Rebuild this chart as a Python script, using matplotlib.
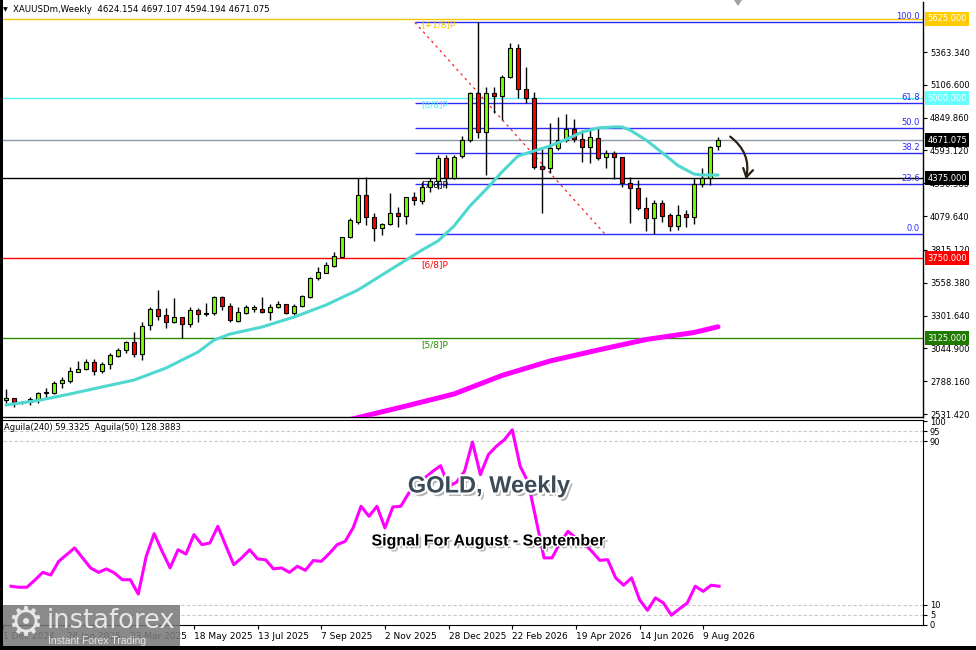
import numpy as np
import matplotlib
matplotlib.use("Agg")
import matplotlib.pyplot as plt
import matplotlib.patheffects as pe
from matplotlib.patches import FancyArrowPatch, Rectangle, Polygon

# ---------------- data ----------------
opens = [2641, 2654, 2625, 2623, 2641, 2695, 2692, 2771, 2792, 2862,
         2881, 2936, 2870, 2920, 2988, 3032, 3092, 2998, 3228, 3353,
         3306, 3249, 3288, 3233, 3345, 3312, 3318, 3444, 3376, 3261,
         3322, 3350, 3350, 3332, 3371, 3392, 3319, 3379, 3449, 3592,
         3637, 3689, 3762, 3913, 4036, 4244, 4070, 3984, 4018, 4106,
         4080, 4226, 4200, 4305, 4357, 4531, 4375, 4546, 4676, 5040,
         4740, 5040, 5022, 5165, 5392, 5074, 5001, 4471, 4453, 4610,
         4675, 4758, 4680, 4618, 4693, 4539, 4570, 4539, 4341, 4297,
         4140, 4062, 4184, 4088, 4000, 4093, 4075, 4330, 4375, 4624.154]
highs = [2727, 2659, 2635, 2666, 2706, 2731, 2791, 2823, 2896, 2946,
         2962, 2960, 2940, 3011, 3045, 3105, 3170, 3253, 3366, 3502,
         3358, 3441, 3292, 3371, 3363, 3402, 3454, 3454, 3397, 3366,
         3386, 3386, 3449, 3392, 3418, 3395, 3392, 3465, 3605, 3684,
         3723, 3801, 3918, 4062, 4380, 4385, 4106, 4028, 4258, 4153,
         4232, 4270, 4349, 4375, 4557, 4557, 4557, 4707, 5053, 5600,
         5092, 5092, 5183, 5431, 5426, 5244, 5053, 4610, 4805, 4857,
         4878, 4837, 4753, 4760, 4779, 4597, 4591, 4544, 4383, 4362,
         4226, 4206, 4206, 4106, 4166, 4127, 4375, 4453, 4628, 4697.107]
lows = [2617, 2584, 2607, 2602, 2617, 2654, 2688, 2732, 2771, 2862,
        2876, 2836, 2854, 2881, 2980, 3006, 2975, 2954, 3189, 3267,
        3202, 3241, 3123, 3209, 3249, 3302, 3306, 3345, 3249, 3254,
        3314, 3330, 3324, 3267, 3358, 3316, 3306, 3371, 3436, 3580,
        3632, 3684, 3757, 3906, 4018, 4010, 3887, 3931, 4010, 3997,
        4018, 4166, 4174, 4270, 4290, 4297, 4370, 4538, 4660, 4688,
        4401, 4884, 4831, 5157, 5001, 4962, 4448, 4101, 4414, 4597,
        4662, 4662, 4505, 4497, 4518, 4453, 4367, 4310, 4023, 4127,
        3965, 3939, 4036, 3965, 3971, 3992, 4018, 4310, 4323, 4594.194]
closes = [2654, 2623, 2629, 2646, 2693, 2700, 2771, 2797, 2867, 2883,
          2936, 2870, 2923, 2993, 3032, 3092, 2998, 3222, 3353, 3300,
          3249, 3288, 3233, 3345, 3314, 3318, 3444, 3376, 3267, 3327,
          3369, 3371, 3332, 3366, 3392, 3319, 3379, 3457, 3597, 3644,
          3697, 3767, 3913, 4049, 4244, 4070, 3984, 4018, 4101, 4080,
          4226, 4205, 4305, 4357, 4531, 4375, 4544, 4676, 5040, 4740,
          5040, 5022, 5165, 5392, 5074, 5001, 4466, 4450, 4610, 4675,
          4758, 4680, 4618, 4696, 4537, 4570, 4539, 4341, 4297, 4140,
          4062, 4184, 4080, 4000, 4088, 4075, 4330, 4375, 4622, 4671.075]

ma_fast_idx = [0, 4, 8, 12, 16, 20, 24, 26, 28, 32, 36, 40, 44, 48, 50, 52, 54,
               56, 58, 60, 62, 64, 66, 68, 70, 72, 74, 76, 77, 78, 80, 82, 84,
               86, 87, 89]
ma_fast_val = [2602, 2637, 2688, 2743, 2797, 2891, 3016, 3110, 3157, 3212, 3290,
               3384, 3502, 3658, 3736, 3814, 3885, 4002, 4159, 4288, 4425, 4550,
               4589, 4628, 4679, 4737, 4769, 4777, 4777, 4753, 4675, 4577, 4475,
               4409, 4401, 4401]

ma_slow_idx = [43, 50, 56, 62, 68, 74, 80, 86, 89]
ma_slow_val = [2488, 2594, 2688, 2833, 2946, 3032, 3114, 3169, 3214]

osc_val = [19.0, 18.5, 18.5, 22.0, 25.8, 24.5, 31.2, 34.5, 37.8, 32.9,
           28.0, 25.8, 27.5, 25.5, 22.2, 22.2, 15.2, 33.7, 44.8, 36.1,
           28.0, 36.9, 34.8, 44.3, 39.4, 40.2, 48.4, 38.9, 29.6, 32.9,
           36.9, 32.4, 32.0, 27.5, 28.0, 25.8, 28.8, 26.8, 31.6, 31.2,
           35.0, 39.4, 41.0, 47.6, 58.2, 53.3, 58.2, 47.6, 57.9, 58.2,
           64.7, 68.0, 72.0, 75.3, 78.1, 68.0, 70.0, 75.3, 89.7, 73.7,
           83.5, 87.6, 90.8, 95.7, 77.8, 70.0, 51.6, 32.9, 32.9, 40.2,
           45.9, 42.7, 40.2, 36.1, 31.7, 32.0, 23.1, 19.5, 23.1, 12.4,
           7.2, 13.3, 10.8, 4.8, 7.9, 10.8, 19.0, 16.5, 19.5, 19.0]
osc_levels = [95, 90, 10, 5]
osc_ticks = [0, 5, 10, 90, 95, 100]

price_ticks = [5363.340, 5106.600, 4849.860, 4593.120, 4336.380, 4079.640,
               3815.120, 3558.380, 3301.640, 3044.900, 2788.160, 2531.420]

murrey_levels = [5625.0, 5000.0, 4375.0, 3750.0, 3125.0]
murrey_names = ["[+1/8]P", "[8/8]P", "[7/8]P", "[6/8]P", "[5/8]P"]
murrey_colors = ["#f5c400", "#55f0f0", "#000000", "#ff0000", "#2a8a00"]
murrey_label_bg = ["#ffcc00", "#66ffff", "#000000", "#ff0000", "#1f7a00"]

fib_low, fib_high = 3937.0, 5595.0
fib_ratios = [0.0, 23.6, 38.2, 50.0, 61.8, 100.0]
fib_start_bar, fib_end_bar = 51.1, 74.9

last_price = 4671.075

date_idx = [-1, 7, 15, 23, 31, 39, 47, 55, 63, 71, 79, 87]
date_labels = ["1 Dec 2024", "26 Jan 2025", "23 Mar 2025", "18 May 2025",
               "13 Jul 2025", "7 Sep 2025", "2 Nov 2025", "28 Dec 2025",
               "22 Feb 2026", "19 Apr 2026", "14 Jun 2026", "9 Aug 2026"]

# ---------------- figure ----------------
W, H = 976, 650
fig = plt.figure(figsize=(W / 100, H / 100), dpi=100)
fig.patch.set_facecolor("white")


def fx(px):
    return px / W


def fy(py):
    return 1 - py / H


XL = (-0.375, 114.625)
ax = fig.add_axes([fx(3), fy(417), fx(920), (417 - 2) / H])
ax2 = fig.add_axes([fx(3), fy(625), fx(920), (625 - 420) / H])

o = np.array(opens); h = np.array(highs); l = np.array(lows); c = np.array(closes)
idx = np.arange(len(o))
up = c >= o

ax.set_xlim(*XL)
ax.set_ylim(2508.0, 5754.5)

# horizontal full-width lines
for lv, col in zip(murrey_levels, murrey_colors):
    ax.axhline(lv, color=col, lw=1.0, zorder=1)
ax.axhline(last_price, color="#8e9aa6", lw=1.0, zorder=1)

# fib levels
for r in fib_ratios:
    lv = fib_low + (fib_high - fib_low) * r / 100.0
    ax.hlines(lv, fib_start_bar, XL[1], color="#2b2bff", lw=1.0, zorder=1.5)
    ax.text(0.9967, lv + 8, f"{r:.1f}", transform=ax.get_yaxis_transform(),
            ha="right", va="bottom", fontsize=6, color="#2b2bff", zorder=6)
ax.plot([fib_start_bar, fib_end_bar], [fib_high, fib_low], color="#ff2020",
        lw=0.9, ls=(0, (2, 3)), zorder=1.6)

# murrey labels
for lv, nm, col in zip(murrey_levels, murrey_names, murrey_colors):
    ax.text(51.9, lv - 15, nm, ha="left", va="top", fontsize=6.5, color=col,
            zorder=2)

# candles
ax.vlines(idx, l, h, color="black", lw=1.0, zorder=3)
ax.bar(idx[up], (c - o)[up], bottom=o[up], width=0.62, color="#7CFC00",
       edgecolor="black", lw=0.8, zorder=4)
ax.bar(idx[~up], (o - c)[~up], bottom=c[~up], width=0.62, color="#FF0000",
       edgecolor="black", lw=0.8, zorder=4)

# moving averages
ax.plot(ma_fast_idx, ma_fast_val, color="#4ed8d0", lw=2.2, zorder=5,
        solid_capstyle="round")
ax.plot(ma_slow_idx, ma_slow_val, color="#ff00ff", lw=3.6, zorder=5,
        solid_capstyle="round")

# curved arrow
arr = FancyArrowPatch((90.25, 4714), (92.4, 4346),
                      connectionstyle="arc3,rad=-0.35",
                      arrowstyle="->,head_length=0.5,head_width=0.3",
                      mutation_scale=12, color="#2b2114", lw=1.6, zorder=7)
ax.add_patch(arr)

# axes styling
ax.set_xticks([])
ax.yaxis.tick_right()
ax.set_yticks(price_ticks)
ax.set_yticklabels([f"{t:.3f}" for t in price_ticks])
ax.tick_params(axis="y", direction="out", length=3, pad=2, labelsize=6,
               width=0.8, colors="black")
for s in ["top", "left"]:
    ax.spines[s].set_visible(False)
for s in ["right", "bottom"]:
    ax.spines[s].set_linewidth(1.0)

# right axis value boxes
ytr = ax.get_yaxis_transform()
for lv, bg in zip(murrey_levels, murrey_label_bg):
    ax.text(1.0045, lv, f"{lv:.3f}", transform=ytr, ha="left", va="center",
            fontsize=6, color="white", zorder=10, clip_on=False,
            bbox=dict(boxstyle="square,pad=0.3", fc=bg, ec="none"))
ax.text(1.0045, last_price, f"{last_price:.3f}", transform=ytr, ha="left",
        va="center", fontsize=6, color="white", zorder=10, clip_on=False,
        bbox=dict(boxstyle="square,pad=0.3", fc="black", ec="none"))

# ---------------- indicator panel ----------------
ax2.set_xlim(*XL)
ax2.set_ylim(0, 100.5)
for lv in osc_levels:
    ax2.axhline(lv, color="#c8c8c8", lw=0.8, ls=(0, (3, 2)), zorder=1)
ax2.plot(idx, osc_val, color="#ff00ff", lw=2.2, zorder=3)
ax2.yaxis.tick_right()
ax2.set_yticks(osc_ticks)
ax2.set_yticklabels([str(t) for t in osc_ticks])
ax2.tick_params(axis="y", direction="out", length=3, pad=2, labelsize=6)
ax2.set_xticks(date_idx)
ax2.set_xticklabels(date_labels, ha="left")
ax2.tick_params(axis="x", direction="out", length=3, pad=2, labelsize=6.5)
for lbl in ax2.get_xticklabels():
    lbl.set_clip_on(False)
ax2.spines["left"].set_visible(False)

fig.text(fx(4), fy(428), "Aguila(240) 59.3325  Aguila(50) 128.3883",
         fontsize=6, va="center", ha="left")

# header
fig.text(fx(3), fy(10), "\u25BC", fontsize=4.5, va="center", ha="left")
fig.text(fx(13), fy(10), "XAUUSDm,Weekly  4624.154 4697.107 4594.194 4671.075",
         fontsize=6.2, va="center", ha="left")

# chart-shift marker
fig.patches.append(Polygon([[fx(734), fy(0)], [fx(742), fy(0)], [fx(738), fy(6)]],
                           closed=True, transform=fig.transFigure,
                           fc="#a0a0a0", ec="none"))

# overlay titles
fig.text(fx(489), fy(486), "GOLD, Weekly", fontsize=17, fontweight="bold",
         family="Liberation Sans", color="#3b4b58", ha="center", va="center",
         zorder=20,
         path_effects=[pe.SimplePatchShadow(offset=(2, -2.5), shadow_rgbFace="#777777",
                                            alpha=0.55),
                       pe.Stroke(linewidth=3, foreground="white"), pe.Normal()])
fig.text(fx(489), fy(541), "Signal For August - September", fontsize=11.5,
         fontweight="bold", family="Liberation Sans", color="black",
         ha="center", va="center", zorder=20,
         path_effects=[pe.SimplePatchShadow(offset=(2, -2), shadow_rgbFace="#777777",
                                            alpha=0.5),
                       pe.Stroke(linewidth=2, foreground="white"), pe.Normal()])

# logo
fig.patches.append(Rectangle((0, fy(650)), fx(180), 45 / H, transform=fig.transFigure,
                             fc="#7a7a7a", ec="none", alpha=0.88, zorder=30))
fig.text(fx(25), fy(624), "\u2699", fontsize=29, color="#e6e6e6", ha="center",
         va="center", zorder=31)
fig.text(fx(47), fy(621), "instaforex", fontsize=18.5, color="#e6e6e6",
         ha="left", va="center", zorder=31, family="DejaVu Sans")
fig.text(fx(48), fy(641), "Instant Forex Trading", fontsize=7.5, color="#e6e6e6",
         ha="left", va="center", zorder=31, family="Liberation Sans")

# window frame (left and bottom black)
fig.patches.append(Rectangle((0, 0), fx(3), 1, transform=fig.transFigure,
                             fc="black", ec="none", zorder=40))
fig.patches.append(Rectangle((0, 0), 1, 4 / H, transform=fig.transFigure,
                             fc="black", ec="none", zorder=40))

fig.savefig("out.png", dpi=100)
